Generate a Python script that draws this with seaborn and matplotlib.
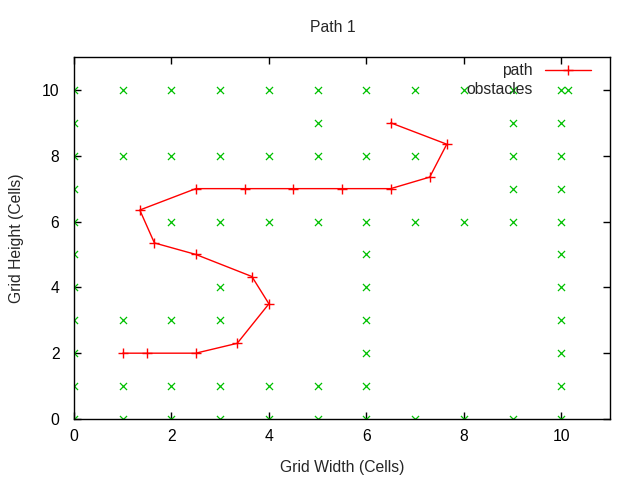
import matplotlib
matplotlib.use("Agg")
import matplotlib.pyplot as plt
import seaborn as sns
import pandas as pd

# Path (x, y) in visiting order
path_x = [1.0, 1.5, 2.5, 3.35, 4.0, 3.65, 2.5, 1.65, 1.35, 2.5, 3.5, 4.5, 5.5, 6.5, 7.3, 7.65, 6.5]
path_y = [2.0, 2.0, 2.0, 2.3, 3.5, 4.33, 5.0, 5.35, 6.35, 7.0, 7.0, 7.0, 7.0, 7.0, 7.35, 8.35, 9.0]

# Obstacles by row
obstacle_rows = {
    10: [0, 1, 2, 3, 4, 5, 6, 7, 8, 9, 10],
    9: [0, 5, 9, 10],
    8: [0, 1, 2, 3, 4, 5, 6, 7, 9, 10],
    7: [0, 9, 10],
    6: [0, 2, 3, 4, 5, 6, 7, 8, 9, 10],
    5: [0, 6, 10],
    4: [0, 3, 6, 10],
    3: [0, 1, 2, 3, 6, 10],
    2: [0, 6, 10],
    1: [0, 1, 2, 3, 4, 5, 6, 10],
    0: [0, 1, 2, 3, 4, 5, 6, 7, 8, 9, 10],
}
obs_x = [x for y, xs in obstacle_rows.items() for x in xs]
obs_y = [y for y, xs in obstacle_rows.items() for x in xs]

title = "Path 1"
xlabel = "Grid Width (Cells)"
ylabel = "Grid Height (Cells)"
ticks = [0, 2, 4, 6, 8, 10]

FS = 11.3

sns.set_theme(style="white")
plt.rcParams['font.family'] = ['Liberation Sans', 'DejaVu Sans']

fig = plt.figure(figsize=(6.4, 4.8), dpi=100)
ax = fig.add_axes([74/640, 1-419/480, 536/640, 362/480])

path_df = pd.DataFrame({"x": path_x, "y": path_y})
obs_df = pd.DataFrame({"x": obs_x, "y": obs_y})

sns.lineplot(data=path_df, x="x", y="y", sort=False, estimator=None, errorbar=None,
             color="red", linewidth=1.0, marker="+", markersize=7,
             markeredgewidth=1.0, markeredgecolor="red", label="path", ax=ax, zorder=3)
sns.scatterplot(data=obs_df, x="x", y="y", marker="x", color="#00c000", s=26,
                linewidth=0.9, label="obstacles", ax=ax, zorder=1)

ax.set_xlim(0, 11)
ax.set_ylim(0, 11)
ax.set_xticks(ticks)
ax.set_yticks(ticks)
ax.tick_params(direction="in", length=5, width=1, colors="black", labelsize=FS,
               top=True, right=True, bottom=True, left=True, pad=7.5)
ax.tick_params(axis="y", pad=10.5)
for s in ax.spines.values():
    s.set_color("black")
    s.set_linewidth(1)
ax.set_xlabel(xlabel, fontsize=FS, labelpad=11)
ax.set_ylabel(ylabel, fontsize=FS, labelpad=13)
ax.grid(False)

fig.text(0.52, 1-28/480, title, ha="center", va="center", fontsize=FS)

leg = ax.legend(loc="upper right", bbox_to_anchor=(1-19/536, 1-6/362), frameon=False,
                markerfirst=False, fontsize=FS, handlelength=2.9, handletextpad=0.8,
                labelspacing=0.28, borderaxespad=0.0, borderpad=0.0, scatterpoints=1,
                numpoints=1)

fig.savefig("out.png", dpi=100)
